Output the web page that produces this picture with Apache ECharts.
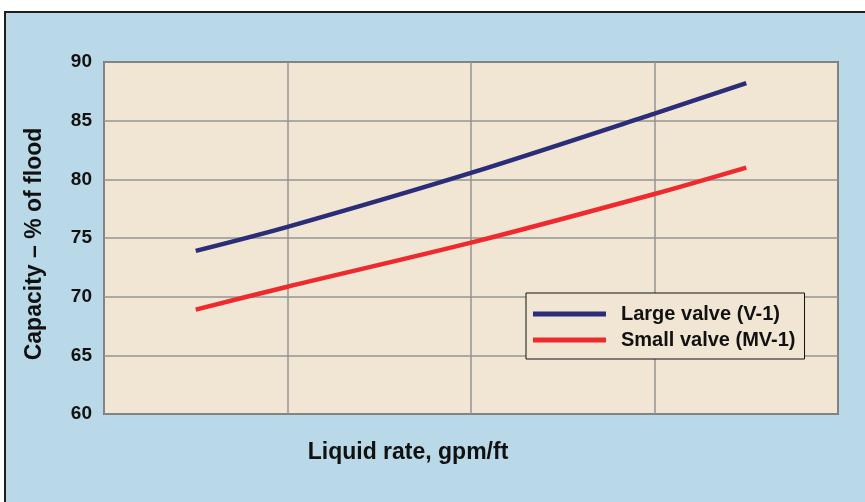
<!DOCTYPE html>
<html>
<head>
<meta charset="utf-8">
<script src="https://cdn.jsdelivr.net/npm/echarts@6/dist/echarts.min.js"></script>
<style>
  html, body { margin: 0; padding: 0; background: #ffffff; }
  #wrap { position: relative; width: 865px; height: 502px; overflow: hidden; }
  #chart {
    position: absolute; left: 4px; top: 11px; width: 861px; height: 491px;
    border-left: 2px solid #1e1e1e; border-top: 2px solid #1e1e1e;
    background: #b9d9e8;
  }
</style>
</head>
<body>
<div id="wrap"><div id="chart"></div></div>
<script>
const xValues = [0.5, 1, 2, 3, 3.5]
const largeValve = [73.9, 75.95, 80.55, 85.6, 88.2]
const smallValve = [68.9, 70.85, 74.6, 78.75, 81.0]
const seriesNames = ['Large valve (V-1)', 'Small valve (MV-1)']

const font = "'Liberation Sans', Arial, sans-serif"

let chart = echarts.init(document.getElementById('chart'))
chart.setOption({
    backgroundColor: '#b9d9e8',
    animation: false,
    grid: {
        left: 98,
        top: 49,
        right: 29,
        bottom: 90,
        show: true,
        backgroundColor: '#f1e6d3',
        borderColor: '#222',
        borderWidth: 1.5
    },
    legend: {
        data: seriesNames,
        orient: 'vertical',
        left: 520,
        top: 280,
        icon: 'rect',
        itemWidth: 73,
        itemHeight: 5,
        itemGap: 6,
        padding: [11, 9, 9, 7],
        borderColor: '#111',
        borderWidth: 1,
        backgroundColor: '#f1e6d3',
        textStyle: {
            fontFamily: font,
            fontSize: 20,
            fontWeight: 'bold',
            color: '#111',
            padding: [0, 0, 0, 10]
        }
    },
    xAxis: {
        type: 'value',
        min: 0,
        max: 4,
        interval: 1,
        name: 'Liquid rate, gpm/ft',
        nameLocation: 'middle',
        nameGap: 27,
        nameTextStyle: {
            fontFamily: font,
            fontSize: 23,
            fontWeight: 'bold',
            color: '#111',
            padding: [0, 126, 0, 0],
            verticalAlign: 'top'
        },
        axisLine: { show: false },
        axisTick: { show: false },
        axisLabel: { show: false },
        splitLine: { lineStyle: { color: '#959595', width: 1.5 } }
    },
    yAxis: {
        type: 'value',
        min: 60,
        max: 90,
        interval: 5,
        name: 'Capacity – % of flood',
        nameLocation: 'middle',
        nameGap: 58,
        nameRotate: 90,
        nameTextStyle: {
            fontFamily: font,
            fontSize: 23,
            fontWeight: 'bold',
            color: '#111',
            padding: [0, 12, 0, 0]
        },
        axisLine: { show: false },
        axisTick: { show: false },
        axisLabel: {
            fontFamily: font,
            fontSize: 19,
            fontWeight: 'bold',
            color: '#111',
            margin: 12
        },
        splitLine: { lineStyle: { color: '#959595', width: 1.5 } }
    },
    series: [
        {
            name: seriesNames[0],
            type: 'line',
            smooth: 0.3,
            symbol: 'none',
            itemStyle: { color: '#2b2d78' },
            lineStyle: { width: 4.5, color: '#2b2d78', cap: 'butt' },
            data: xValues.map((x, i) => [x, largeValve[i]])
        },
        {
            name: seriesNames[1],
            type: 'line',
            smooth: 0.3,
            symbol: 'none',
            itemStyle: { color: '#ee2a2e' },
            lineStyle: { width: 4.5, color: '#ee2a2e', cap: 'butt' },
            data: xValues.map((x, i) => [x, smallValve[i]])
        }
    ]
})
</script>
</body>
</html>
